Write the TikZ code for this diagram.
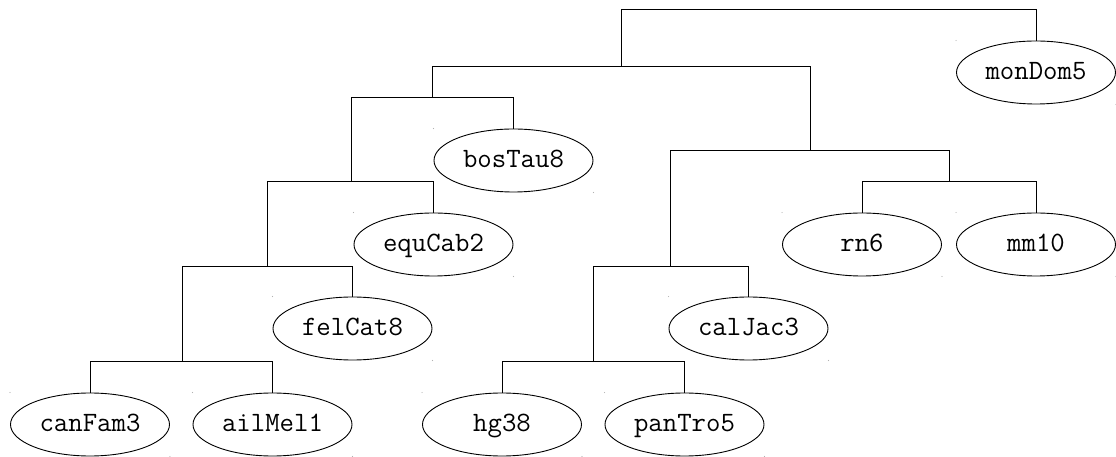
\documentclass[tikz,border=0pt]{standalone}
\usepackage{fontspec}
\usetikzlibrary{shapes.geometric}

\begin{document}
\begin{tikzpicture}[x=1pt,y=1pt,line width=0.9pt]
\useasboundingbox (0,0) rectangle (1116,457);

\begin{scope}[every node/.style={draw,ellipse,minimum width=159pt,minimum height=63pt,inner sep=0pt,
    font=\ttfamily\fontsize{28}{28}\selectfont,text height=18pt,text depth=3pt}]
  \node (mondom) at (1036,384.5) {monDom5};
  \node (bostau) at (513.5,296.5) {bosTau8};
  \node (equcab) at (433.5,212.5) {equCab2};
  \node (rn) at (862,212.5) {rn6};
  \node (mm) at (1036,212.5) {mm10};
  \node (felcat) at (352.5,128.5) {felCat8};
  \node (caljac) at (748.5,128.5) {calJac3};
  \node (canfam) at (90,32.5) {canFam3};
  \node (ailmel) at (272.5,32.5) {ailMel1};
  \node (hg) at (502,32.5) {hg38};
  \node (pantro) at (684.5,32.5) {panTro5};
\end{scope}

  \coordinate (root) at (621,447.7);
  \coordinate (eutheria) at (621,391);
  \coordinate (laurasia) at (432,359.7);
  \coordinate (pegaso) at (351,275.5);
  \coordinate (ferae) at (267,191);
  \coordinate (carnivora) at (182,95.3);
  \coordinate (euarch) at (810,307);
  \coordinate (glires) at (949,275.5);
  \coordinate (primates) at (670,191);
  \coordinate (hominini) at (593,95.3);

  \draw (root) -| (eutheria);
  \draw (root) -| (mondom);
  \draw (eutheria) -| (laurasia);
  \draw (eutheria) -| (euarch);
  \draw (laurasia) -| (pegaso);
  \draw (laurasia) -| (bostau);
  \draw (pegaso) -| (ferae);
  \draw (pegaso) -| (equcab);
  \draw (ferae) -| (carnivora);
  \draw (ferae) -| (felcat);
  \draw (carnivora) -| (canfam);
  \draw (carnivora) -| (ailmel);
  \draw (euarch) -| (primates);
  \draw (euarch) -| (glires);
  \draw (glires) -| (rn);
  \draw (glires) -| (mm);
  \draw (primates) -| (hominini);
  \draw (primates) -| (caljac);
  \draw (hominini) -| (hg);
  \draw (hominini) -| (pantro);

  \foreach \n in {mondom,bostau,equcab,rn,mm,felcat,caljac,canfam,ailmel,hg,pantro} {
    \fill[gray!60] (\n.west |- \n.north) circle (0.6pt);
    \fill[gray!60] (\n.east |- \n.south) circle (0.6pt);
  }
\end{tikzpicture}
\end{document}
